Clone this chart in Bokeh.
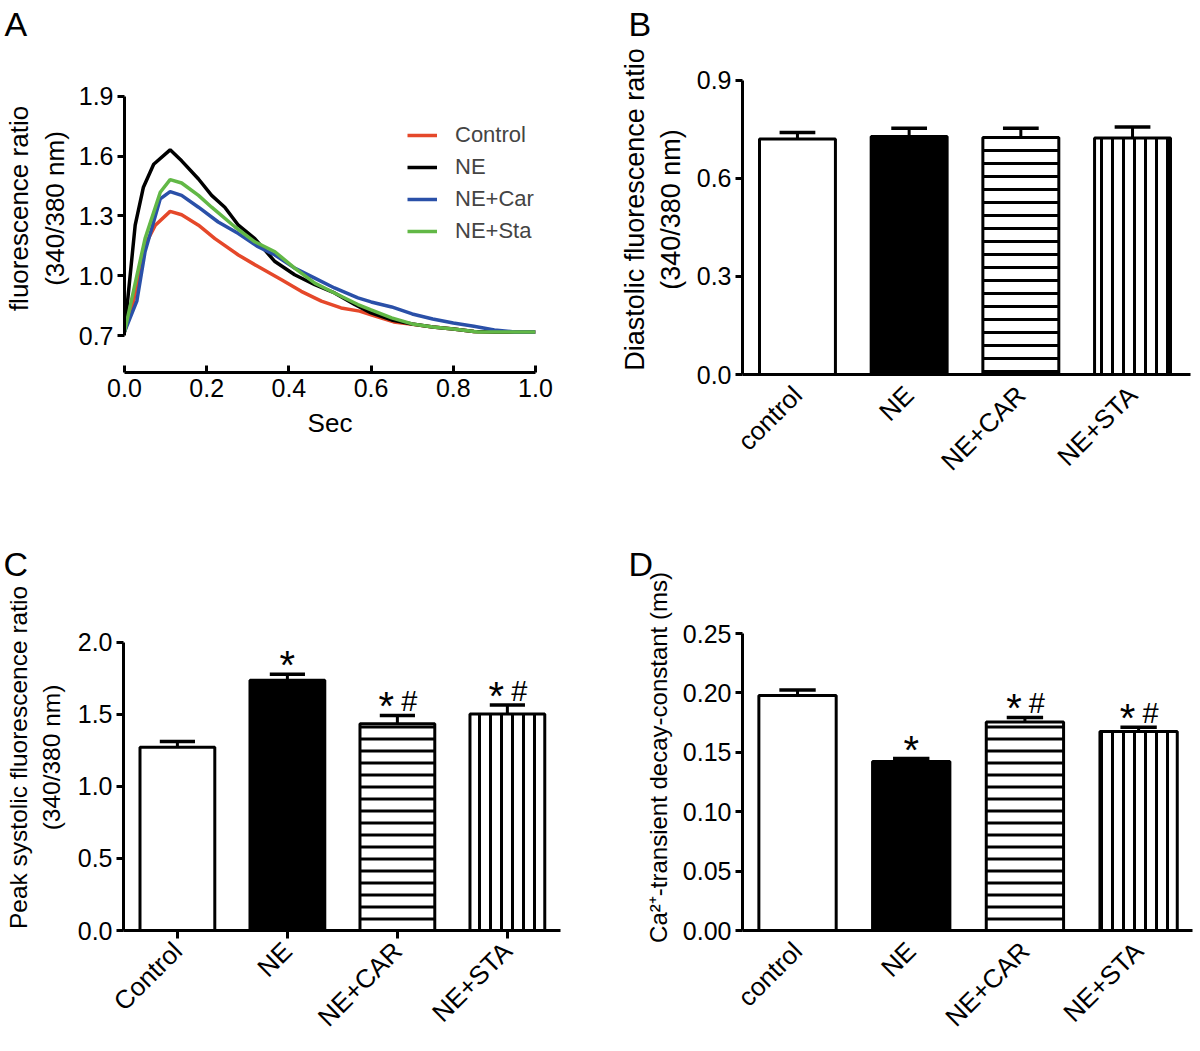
import math
from bokeh.plotting import figure
from bokeh.layouts import column, row
from bokeh.models import (Range1d, FixedTicker, NumeralTickFormatter,
                          Legend, LegendItem, ColumnDataSource)
from bokeh.embed import file_html
from bokeh.resources import INLINE
from bokeh.core.properties import value

FONT = "Liberation Sans"

# ---------------- Panel A data (calcium transients) ----------------
t_control = [0.0, 0.022, 0.05, 0.075, 0.111, 0.139, 0.18, 0.22, 0.277, 0.325, 0.382,
             0.43, 0.479, 0.527, 0.572, 0.6, 0.655, 0.7, 0.75, 0.8, 0.85, 0.9, 1.0]
v_control = [0.72, 0.874, 1.155, 1.254, 1.323, 1.306, 1.254, 1.187, 1.105, 1.047, 0.981,
             0.923, 0.874, 0.84, 0.824, 0.805, 0.77, 0.758, 0.745, 0.735, 0.722, 0.72, 0.72]

t_ne = [0.0, 0.026, 0.046, 0.071, 0.111, 0.139, 0.18, 0.212, 0.244, 0.277, 0.317, 0.366,
        0.414, 0.463, 0.511, 0.56, 0.6, 0.65, 0.7, 0.75, 0.8, 0.85, 0.9, 1.0]
v_ne = [0.72, 1.254, 1.444, 1.559, 1.631, 1.576, 1.485, 1.403, 1.344, 1.254, 1.187, 1.072,
        1.006, 0.956, 0.915, 0.857, 0.815, 0.78, 0.76, 0.745, 0.735, 0.722, 0.72, 0.72]

t_car = [0.0, 0.03, 0.05, 0.087, 0.111, 0.139, 0.18, 0.228, 0.277, 0.325, 0.366, 0.414,
         0.463, 0.511, 0.568, 0.6, 0.65, 0.7, 0.75, 0.8, 0.85, 0.9, 0.95, 1.0]
v_car = [0.72, 0.874, 1.121, 1.386, 1.422, 1.403, 1.344, 1.27, 1.212, 1.146, 1.105, 1.039,
         0.989, 0.94, 0.89, 0.87, 0.845, 0.81, 0.785, 0.765, 0.748, 0.73, 0.72, 0.72]

t_sta = [0.0, 0.05, 0.087, 0.111, 0.139, 0.18, 0.212, 0.269, 0.317, 0.366, 0.414, 0.463,
         0.511, 0.568, 0.6, 0.65, 0.7, 0.75, 0.8, 0.86, 0.9, 1.0]
v_sta = [0.72, 1.187, 1.419, 1.482, 1.465, 1.403, 1.344, 1.245, 1.171, 1.121, 1.039, 0.964,
         0.915, 0.857, 0.83, 0.79, 0.76, 0.745, 0.735, 0.72, 0.72, 0.72]

a_yticks = [0.7, 1.0, 1.3, 1.6, 1.9]
a_xticks = [0.0, 0.2, 0.4, 0.6, 0.8, 1.0]

# ---------------- Bar panels data ----------------
groups_b = ["control", "NE", "NE+CAR", "NE+STA"]
diastolic = [0.720, 0.728, 0.725, 0.723]
diastolic_err = [0.020, 0.025, 0.028, 0.034]
b_yticks = [0.0, 0.3, 0.6, 0.9]

groups_c = ["Control", "NE", "NE+CAR", "NE+STA"]
peak_sys = [1.272, 1.736, 1.435, 1.503]
peak_sys_err = [0.039, 0.043, 0.057, 0.061]
peak_sys_star = ["", "*", "*", "*"]
peak_sys_hash = ["", "", "#", "#"]
c_yticks = [0.0, 0.5, 1.0, 1.5, 2.0]

groups_d = ["control", "NE", "NE+CAR", "NE+STA"]
decay = [0.1978, 0.1423, 0.1755, 0.1676]
decay_err = [0.0047, 0.0025, 0.0039, 0.0036]
decay_star = ["", "*", "*", "*"]
decay_hash = ["", "", "#", "#"]
d_yticks = [0.0, 0.05, 0.10, 0.15, 0.20, 0.25]

# bar styles
bar_fills = ["white", "black", "white", "white"]
bar_hatch = [" ", " ", "horizontal_line", "vertical_line"]


def base_style(p, label_size="26px"):
    p.grid.visible = False
    p.outline_line_color = None
    p.background_fill_color = "white"
    p.border_fill_color = "white"
    for ax in p.axis:
        ax.axis_line_width = 3
        ax.axis_line_color = "black"
        ax.major_tick_line_width = 3
        ax.major_tick_line_color = "black"
        ax.minor_tick_line_color = None
        ax.major_label_text_font = FONT
        ax.major_label_text_font_size = "25px"
        ax.major_label_text_color = "black"
        ax.major_label_standoff = 4
        ax.axis_label_text_font = FONT
        ax.axis_label_text_font_size = label_size
        ax.axis_label_text_font_style = "normal"
        ax.axis_label_text_color = "black"


def panel_letter(p, letter, offset):
    p.title.text = letter
    p.title.align = "left"
    p.title.offset = offset
    p.title.standoff = 4
    p.title.text_font = FONT
    p.title.text_font_size = "34px"
    p.title.text_font_style = "normal"
    p.title.text_color = "black"


# ---------------- Panel A ----------------
pA = figure(width=600, height=540, output_backend="svg", toolbar_location=None,
            frame_align=False,
            x_range=Range1d(0, 1.0), y_range=Range1d(0.517, 2.158),
            min_border_left=122, min_border_right=65, min_border_top=41, min_border_bottom=168)
base_style(pA)
rc = pA.line(t_control, v_control, line_color="#E5482A", line_width=3.5)
rn = pA.line(t_ne, v_ne, line_color="black", line_width=3.5)
rcar = pA.line(t_car, v_car, line_color="#2A50A8", line_width=3.5)
rs = pA.line(t_sta, v_sta, line_color="#62B846", line_width=3.5)
pA.yaxis.ticker = FixedTicker(ticks=a_yticks)
pA.yaxis.formatter = NumeralTickFormatter(format="0.0")
pA.yaxis.bounds = (0.7, 1.9)
pA.yaxis.major_tick_out = 7
pA.yaxis.major_tick_in = 0
pA.yaxis.axis_label = "fluorescence ratio\n(340/380 nm)"
pA.yaxis.axis_label_standoff = 6
pA.xaxis.ticker = FixedTicker(ticks=a_xticks)
pA.xaxis.formatter = NumeralTickFormatter(format="0.0")
pA.xaxis.bounds = (0, 1.0)
pA.xaxis.major_tick_out = 0
pA.xaxis.major_tick_in = 7
pA.xaxis.major_label_standoff = 6
pA.xaxis.axis_label = "Sec"
pA.xaxis.axis_label_standoff = 8
legend = Legend(items=[LegendItem(label="Control", renderers=[rc]),
                       LegendItem(label="NE", renderers=[rn]),
                       LegendItem(label="NE+Car", renderers=[rcar]),
                       LegendItem(label="NE+Sta", renderers=[rs])],
                location=(283, 125), border_line_color=None, background_fill_alpha=0,
                label_text_font=FONT, label_text_font_size="22px",
                glyph_width=30, glyph_height=32, label_height=32, spacing=0,
                padding=0, margin=0, label_standoff=18)
pA.add_layout(legend)
panel_letter(pA, "A", -120)


def bar_panel(width, height, left, right, top, bottom, xr, yr, groups, vals, errs,
              yticks, fmt, ylabel, label_size, label_standoff, hscale,
              stars=None, hashes=None, xticks_visible=False):
    p = figure(width=width, height=height, output_backend="svg", toolbar_location=None,
               frame_align=False,
               x_range=Range1d(*xr), y_range=Range1d(*yr),
               min_border_left=left, min_border_right=right,
               min_border_top=top, min_border_bottom=bottom)
    base_style(p, label_size)
    xs = list(range(len(groups)))
    hatch_scales = [hscale, hscale, hscale, 11]
    src = ColumnDataSource(dict(x=xs, top=vals, fill=bar_fills, hatch=bar_hatch,
                                hs=hatch_scales))
    p.vbar(x="x", top="top", width=0.68, source=src, fill_color="fill",
           line_color="black", line_width=3, hatch_pattern="hatch",
           hatch_color="black", hatch_weight=3, hatch_scale="hs")
    tops = [v + e for v, e in zip(vals, errs)]
    p.segment(x0=xs, y0=vals, x1=xs, y1=tops, line_color="black", line_width=3)
    p.segment(x0=[x - 0.16 for x in xs], y0=tops, x1=[x + 0.16 for x in xs], y1=tops,
              line_color="black", line_width=3.5)
    if stars is not None:
        star_dx = [0 if h == "" else -11 for h in hashes]
        p.text(x=xs, y=tops, text=stars, text_font=value(FONT), text_font_size="40px",
               text_align="center", text_baseline="alphabetic", x_offset=star_dx,
               y_offset=-9, text_color="black")
        p.text(x=xs, y=tops, text=hashes, text_font=value(FONT), text_font_size="29px",
               text_align="center", text_baseline="alphabetic", x_offset=12,
               y_offset=-14, text_color="black")
    p.yaxis.ticker = FixedTicker(ticks=yticks)
    p.yaxis.formatter = NumeralTickFormatter(format=fmt)
    p.yaxis.bounds = (yticks[0], yticks[-1])
    p.yaxis.major_tick_out = 7
    p.yaxis.major_tick_in = 0
    p.yaxis.axis_label = ylabel
    p.yaxis.axis_label_standoff = label_standoff
    p.xaxis.ticker = FixedTicker(ticks=xs)
    p.xaxis.major_label_overrides = {i: g for i, g in enumerate(groups)}
    p.xaxis.major_label_orientation = math.pi / 4
    p.xaxis.major_label_text_font_size = "26px"
    p.xaxis.major_tick_in = 0
    p.xaxis.major_tick_out = 8 if xticks_visible else 0
    p.xaxis.major_label_standoff = 16 if not xticks_visible else 8
    return p


pB = bar_panel(596, 540, 142, 6, 41, 166, (-0.492, 3.519), (0, 1.009), groups_b,
               diastolic, diastolic_err, b_yticks, "0.0",
               "Diastolic fluorescence ratio\n(340/380 nm)", "27px", 8, 13)
panel_letter(pB, "B", -114)

pC = bar_panel(600, 505, 123, 40, 43, 109, (-0.49, 3.483), (0, 2.401), groups_c,
               peak_sys, peak_sys_err, c_yticks, "0.0",
               "Peak systolic fluorescence ratio\n(340/380 nm)", "24.5px", 10, 12,
               stars=peak_sys_star, hashes=peak_sys_hash, xticks_visible=True)
panel_letter(pC, "C", -120)

pD = bar_panel(596, 505, 142, 4, 43, 109, (-0.484, 3.474), (0, 0.2913), groups_d,
               decay, decay_err, d_yticks, "0.00",
               "Ca\u00b2\u207a-transient decay-constant (ms)", "24px", 8, 12,
               stars=decay_star, hashes=decay_hash)
panel_letter(pD, "D", -114)

layout = column(row(pA, pB), row(pC, pD))
open("out.html", "w").write(file_html(layout, INLINE))
